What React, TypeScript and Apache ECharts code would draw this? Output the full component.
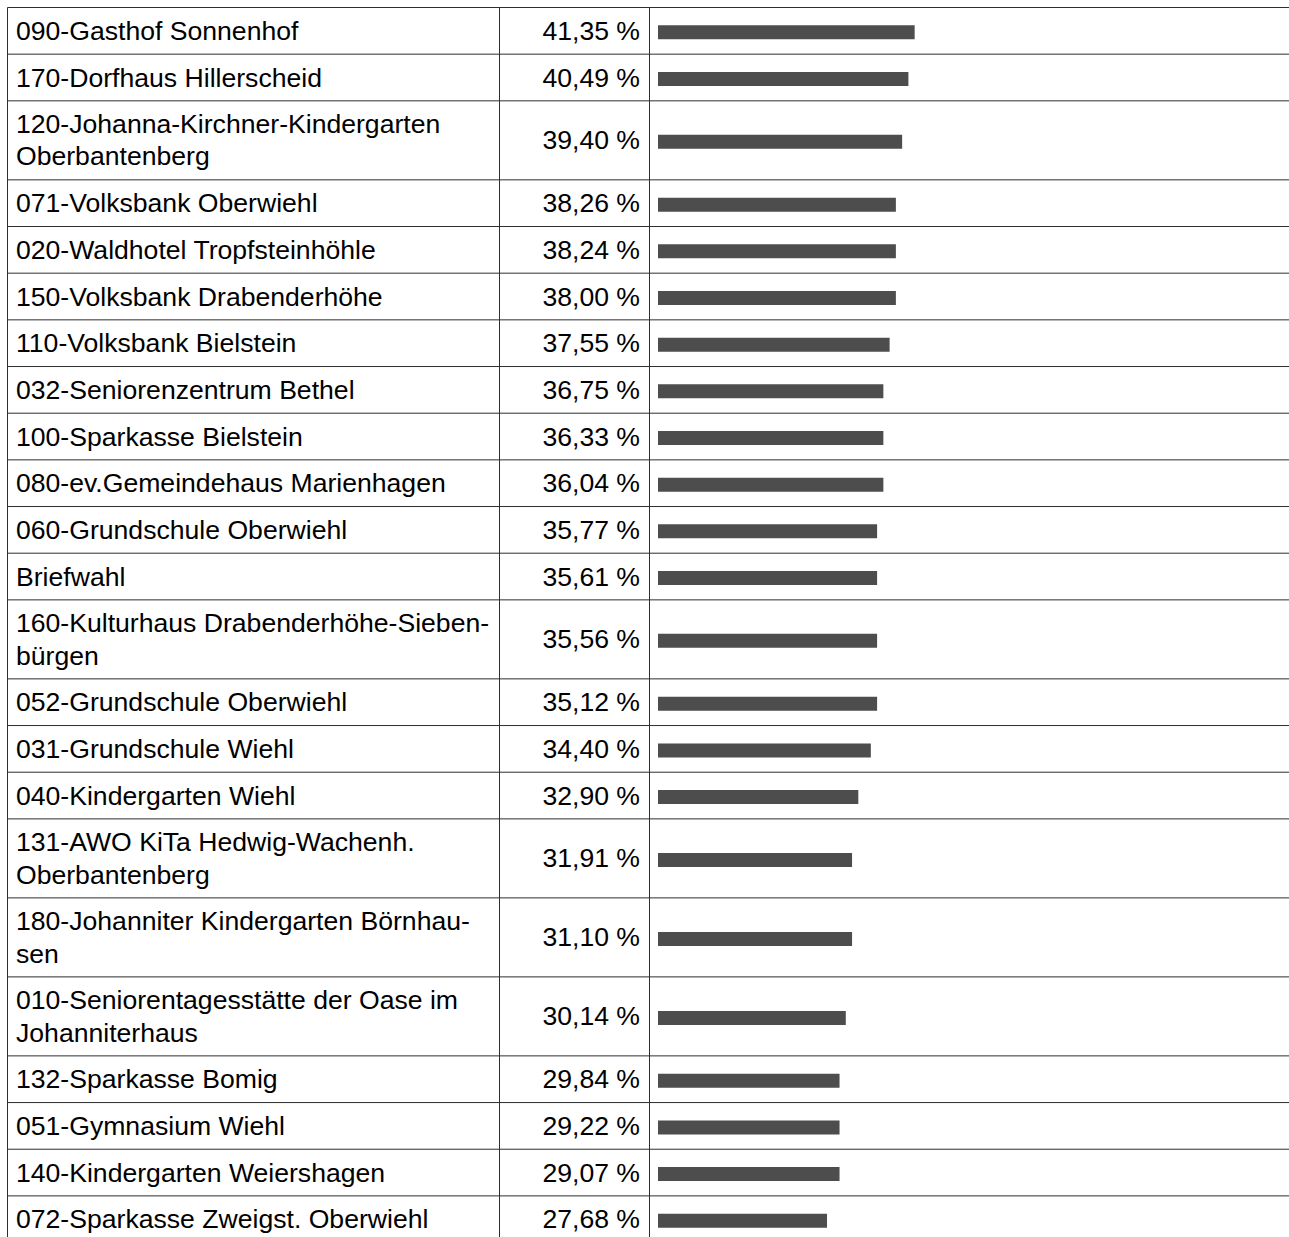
import React, { useEffect, useRef } from "react";
import * as echarts from "echarts";

// Row labels as displayed (line breaks as wrapped in the picture)
const names: string[] = [
  "090-Gasthof Sonnenhof",
  "170-Dorfhaus Hillerscheid",
  "120-Johanna-Kirchner-Kindergarten\nOberbantenberg",
  "071-Volksbank Oberwiehl",
  "020-Waldhotel Tropfsteinhöhle",
  "150-Volksbank Drabenderhöhe",
  "110-Volksbank Bielstein",
  "032-Seniorenzentrum Bethel",
  "100-Sparkasse Bielstein",
  "080-ev.Gemeindehaus Marienhagen",
  "060-Grundschule Oberwiehl",
  "Briefwahl",
  "160-Kulturhaus Drabenderhöhe-Sieben-\nbürgen",
  "052-Grundschule Oberwiehl",
  "031-Grundschule Wiehl",
  "040-Kindergarten Wiehl",
  "131-AWO KiTa Hedwig-Wachenh.\nOberbantenberg",
  "180-Johanniter Kindergarten Börnhau-\nsen",
  "010-Seniorentagesstätte der Oase im\nJohanniterhaus",
  "132-Sparkasse Bomig",
  "051-Gymnasium Wiehl",
  "140-Kindergarten Weiershagen",
  "072-Sparkasse Zweigst. Oberwiehl",
];

// Percentages printed in the middle column
const percentages: number[] = [
  41.35, 40.49, 39.4, 38.26, 38.24, 38.0, 37.55, 36.75, 36.33, 36.04, 35.77,
  35.61, 35.56, 35.12, 34.4, 32.9, 31.91, 31.1, 30.14, 29.84, 29.22, 29.07,
  27.68,
];

// Bar lengths (axis 0..100)
const barValues: number[] = [
  41, 40, 39, 38, 38, 38, 37, 36, 36, 36, 35, 35, 35, 35, 34, 32, 31, 31, 30,
  29, 29, 29, 27,
];

const W = 1289;
const H = 1237;

export default function App() {
  const ref = useRef<HTMLDivElement>(null);

  useEffect(() => {
    if (!ref.current) return;
    const chart = echarts.init(ref.current, undefined, { renderer: "svg" });

    const FONT_FAMILY = "'Liberation Sans', Arial, Helvetica, sans-serif";
    const FONT_SIZE = 26.6;
    const LINE_H = 32.3;
    const SINGLE = 46.67;
    const DOUBLE = 79;
    const TOP = 7.5;
    const LINE_COLOR = "#2e2e2e";
    const colX = [7.5, 499.5, 649.5];

    // row layout
    const tops: number[] = [];
    const heights: number[] = [];
    let y = TOP;
    names.forEach((n) => {
      const h = n.includes("\n") ? DOUBLE : SINGLE;
      tops.push(y);
      heights.push(h);
      y += h;
    });
    const bottoms = tops.map((t, i) => t + heights[i]);
    const centers = tops.map((t, i) => t + heights[i] / 2);

    const graphics: any[] = [];
    // horizontal lines
    const hLines = [tops[0], ...bottoms];
    hLines.forEach((ly) => {
      graphics.push({
        type: "line",
        shape: { x1: colX[0], y1: ly, x2: W, y2: ly },
        style: { stroke: LINE_COLOR, lineWidth: 1 },
        silent: true,
      });
    });
    // vertical lines
    colX.forEach((lx) => {
      graphics.push({
        type: "line",
        shape: { x1: lx, y1: TOP, x2: lx, y2: H },
        style: { stroke: LINE_COLOR, lineWidth: 1 },
        silent: true,
      });
    });
    // texts
    names.forEach((n, i) => {
      graphics.push({
        type: "text",
        x: 16,
        y: centers[i],
        style: {
          text: n,
          fill: "#000",
          fontFamily: FONT_FAMILY,
          fontSize: FONT_SIZE,
          lineHeight: LINE_H,
          align: "left",
          verticalAlign: "middle",
          textAlign: "left",
          textVerticalAlign: "middle",
        },
        silent: true,
      });
      graphics.push({
        type: "text",
        x: 640,
        y: centers[i],
        style: {
          text: percentages[i].toFixed(2).replace(".", ",") + " %",
          fill: "#000",
          fontFamily: FONT_FAMILY,
          fontSize: FONT_SIZE,
          lineHeight: LINE_H,
          align: "right",
          verticalAlign: "middle",
          textAlign: "right",
          textVerticalAlign: "middle",
        },
        silent: true,
      });
    });

    const data = barValues.map((v, i) => [v, centers[i]]);

    chart.setOption({
      animation: false,
      backgroundColor: "#fff",
      grid: { left: 658, right: 5, top: 0, bottom: 0, containLabel: false },
      xAxis: { type: "value", min: 0, max: 100, show: false },
      yAxis: { type: "value", min: 0, max: H, inverse: true, show: false },
      graphic: graphics,
      series: [
        {
          type: "custom",
          clip: false,
          silent: true,
          data,
          encode: { x: 0, y: 1 },
          renderItem: (params: any, api: any) => {
            const start = api.coord([0, api.value(1)]);
            const end = api.coord([api.value(0), api.value(1)]);
            const barH = 14;
            return {
              type: "rect",
              shape: {
                x: start[0],
                y: start[1] - barH / 2 + 1.5,
                width: end[0] - start[0],
                height: barH,
              },
              style: { fill: "#4d4d4d" },
            };
          },
        },
      ],
    });

    return () => chart.dispose();
  }, []);

  return (
    <div
      ref={ref}
      style={{ position: "fixed", left: 0, top: 0, width: W, height: H }}
    />
  );
}
